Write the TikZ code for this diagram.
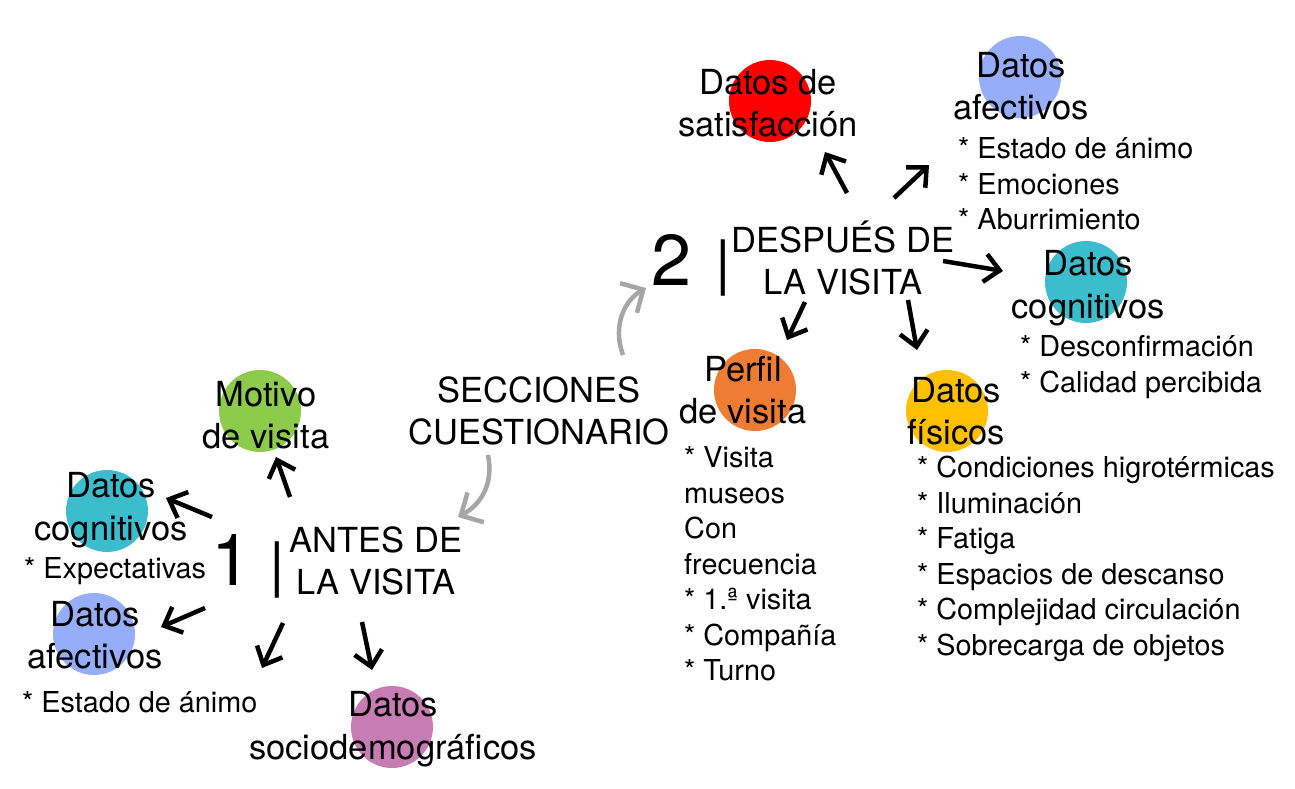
\documentclass[tikz,border=0pt]{standalone}
\usepackage{fontspec}
\setmainfont{TeX Gyre Heros}
\usetikzlibrary{arrows.meta}
\definecolor{cred}{HTML}{FF0000}
\definecolor{cblue}{HTML}{96AEFA}
\definecolor{cteal}{HTML}{3BBDCE}
\definecolor{corange}{HTML}{EE7D33}
\definecolor{cyellow}{HTML}{FFC000}
\definecolor{cgreen}{HTML}{8DCB4B}
\definecolor{cpurple}{HTML}{C87CB4}
\definecolor{cgray}{HTML}{A6A6A6}
\begin{document}
\begin{tikzpicture}[x=1pt,y=-1pt,
  dot/.style={circle,minimum size=82pt,inner sep=0,fill=#1},
  lbl/.style={align=center,inner sep=0,font=\fontsize{34.5}{42.5}\selectfont},
  items/.style={align=left,inner sep=0,anchor=west,font=\fontsize{28.8}{35.5}\selectfont},
  big/.style={inner sep=0,font=\fontsize{72}{72}\selectfont},
  barsty/.style={inner sep=0,font=\fontsize{60}{60}\selectfont},
  arr/.style={line width=4.5pt,-{Straight Barb[length=15pt,width=28pt]}},
  garr/.style={cgray,line width=4.5pt,-{Straight Barb[length=17pt,width=34pt]}}]
\useasboundingbox (0,0) rectangle (1295,789);

% circles
\node[dot=cred] (c1) at (770,101) {};
\node[dot=cblue] (c2) at (1020,77) {};
\node[dot=cteal] (c3) at (1086,282) {};
\node[dot=corange] (c4) at (755,390) {};
\node[dot=cyellow] (c5) at (947,411) {};
\node[dot=cgreen] (c6) at (260,411) {};
\node[dot=cteal] (c7) at (107,511) {};
\node[dot=cblue] (c8) at (94,634) {};
\node[dot=cpurple] (c9) at (392,727) {};

% part 2
\node[lbl] (sat) at (768,103) {Datos de\\satisfacción};
\node[lbl] (afR) at (1021,86) {Datos\\afectivos};
\node[items] (afRi) at (958,184) {* Estado de ánimo\\* Emociones\\* Aburrimiento};
\node[lbl] (desp) at (843,258) {DESPUÉS DE\\LA VISITA};
\node[big] (two) at (672,260) {2};
\node[barsty] (bar2) at (723,268) {|};
\node[lbl] (cogR) at (1088,288) {Datos\\cognitivos};
\node[items] (cogRi) at (1020,367) {* Desconfirmación\\* Calidad percibida};
\node[lbl] (perf) at (743,390) {Perfil\\de visita};
\node[items] (perfi) at (684,564) {* Visita\\museos\\Con\\frecuencia\\* 1.ª visita\\* Compañía\\* Turno};
\node[lbl] (fis) at (956,411) {Datos\\físicos};
\node[items] (fisi) at (917,559) {* Condiciones higrotérmicas\\* Iluminación\\* Fatiga\\* Espacios de descanso\\* Complejidad circulación\\* Sobrecarga de objetos};

% center
\node[lbl] (secc) at (539,411) {SECCIONES\\CUESTIONARIO};

% part 1
\node[lbl] (mot) at (266,415) {Motivo\\de visita};
\node[lbl] (cogL) at (111,510) {Datos\\cognitivos};
\node[items] (cogLi) at (24,571) {* Expectativas};
\node[big] (one) at (232,560) {1};
\node[barsty] (bar1) at (277,570) {|};
\node[lbl] (antes) at (376,561) {ANTES DE\\LA VISITA};
\node[lbl] (afL) at (95,635) {Datos\\afectivos};
\node[items] (afLi) at (22,702) {* Estado de ánimo};
\node[lbl] (soc) at (393,729) {Datos\\sociodemográficos};

% arrow end points
\coordinate (p1a) at (847,193); \coordinate (p1b) at (825,152);
\coordinate (p2a) at (894,198); \coordinate (p2b) at (929,165);
\coordinate (p3a) at (943,261); \coordinate (p3b) at (1003,271);
\coordinate (p4a) at (908,300); \coordinate (p4b) at (917,350);
\coordinate (p5a) at (805,302); \coordinate (p5b) at (787,340);
\coordinate (q1a) at (290,497); \coordinate (q1b) at (276,457);
\coordinate (q2a) at (212,517); \coordinate (q2b) at (166,498);
\coordinate (q3a) at (205,608); \coordinate (q3b) at (161,627);
\coordinate (q4a) at (283,623); \coordinate (q4b) at (262,668);
\coordinate (q5a) at (362,622); \coordinate (q5b) at (372,670);
\coordinate (g1a) at (623,355); \coordinate (g1b) at (646,288);
\coordinate (g2a) at (488,455); \coordinate (g2b) at (458,517);

\draw[arr] (p1a) -- (p1b);
\draw[arr] (p2a) -- (p2b);
\draw[arr] (p3a) -- (p3b);
\draw[arr] (p4a) -- (p4b);
\draw[arr] (p5a) -- (p5b);
\draw[arr] (q1a) -- (q1b);
\draw[arr] (q2a) -- (q2b);
\draw[arr] (q3a) -- (q3b);
\draw[arr] (q4a) -- (q4b);
\draw[arr] (q5a) -- (q5b);
\draw[garr] (g1a) .. controls (612,325) and (625,300) .. (g1b);
\draw[garr] (g2a) .. controls (494,485) and (480,505) .. (g2b);
\end{tikzpicture}
\end{document}
